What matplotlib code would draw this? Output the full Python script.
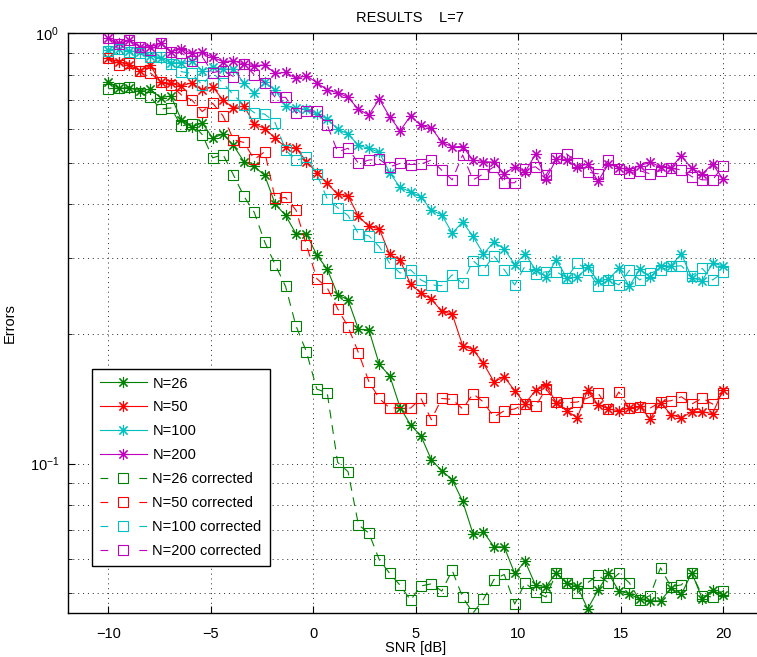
import numpy as np
import matplotlib
matplotlib.use("Agg")
import matplotlib.pyplot as plt
from matplotlib.ticker import LogLocator, NullFormatter, FixedLocator

plt.rcParams['font.family'] = ['Liberation Sans', 'DejaVu Sans']
plt.rcParams['mathtext.fontset'] = 'custom'
plt.rcParams['mathtext.rm'] = 'Liberation Sans'

snr = np.linspace(-10, 20, 60)

n26 = [0.77, 0.745, 0.745, 0.735, 0.74, 0.708, 0.714, 0.628, 0.604, 0.619,
       0.57, 0.583, 0.548, 0.503, 0.49, 0.467, 0.401, 0.377, 0.342, 0.342,
       0.305, 0.283, 0.247, 0.240, 0.205, 0.2045, 0.170, 0.160, 0.135, 0.123,
       0.116, 0.102, 0.0963, 0.0918, 0.0818, 0.0687, 0.0694, 0.0642, 0.064, 0.0556,
       0.0593, 0.0522, 0.0518, 0.0558, 0.0527, 0.052, 0.046, 0.0508, 0.0556, 0.0506,
       0.0499, 0.0484, 0.048, 0.048, 0.0514, 0.0497, 0.0558, 0.0486, 0.0508, 0.0495]
n26c = [0.742, 0.746, 0.75, 0.727, 0.711, 0.666, 0.670, 0.608, 0.616, 0.581,
        0.513, 0.522, 0.468, 0.418, 0.383, 0.327, 0.290, 0.258, 0.209, 0.182,
        0.149, 0.146, 0.1007, 0.0958, 0.0721, 0.069, 0.0598, 0.0556, 0.0522, 0.0482,
        0.052, 0.0526, 0.0506, 0.0565, 0.049, 0.045, 0.0484, 0.0538, 0.0553, 0.0472,
        0.0529, 0.0503, 0.049, 0.0558, 0.0527, 0.050, 0.0529, 0.0551, 0.0529, 0.0556,
        0.0529, 0.0482, 0.0494, 0.0573, 0.0518, 0.0523, 0.0556, 0.0494, 0.049, 0.0506]
n50 = [0.873, 0.858, 0.843, 0.818, 0.843, 0.768, 0.764, 0.753, 0.767, 0.736,
       0.75, 0.699, 0.670, 0.677, 0.615, 0.600, 0.570, 0.543, 0.541, 0.503,
       0.474, 0.448, 0.422, 0.419, 0.375, 0.356, 0.351, 0.306, 0.297, 0.261,
       0.249, 0.241, 0.2256, 0.2225, 0.188, 0.184, 0.171, 0.155, 0.159, 0.1477,
       0.1378, 0.148, 0.152, 0.1385, 0.1327, 0.1277, 0.148, 0.137, 0.134, 0.1327,
       0.1346, 0.1358, 0.127, 0.1386, 0.130, 0.1277, 0.132, 0.132, 0.1306, 0.1485]
n50c = [0.873, 0.843, 0.853, 0.818, 0.809, 0.768, 0.757, 0.718, 0.699, 0.657,
        0.687, 0.642, 0.565, 0.557, 0.509, 0.53, 0.413, 0.415, 0.388, 0.322,
        0.269, 0.256, 0.229, 0.208, 0.181, 0.155, 0.1417, 0.1346, 0.135, 0.1346,
        0.1417, 0.1265, 0.1417, 0.141, 0.134, 0.1453, 0.139, 0.1283, 0.1327, 0.134,
        0.1378, 0.1358, 0.149, 0.139, 0.1385, 0.139, 0.142, 0.146, 0.134, 0.1467,
        0.1346, 0.1355, 0.1346, 0.139, 0.140, 0.143, 0.1375, 0.142, 0.1375, 0.146]
n100 = [0.913, 0.918, 0.910, 0.902, 0.886, 0.876, 0.853, 0.853, 0.862, 0.818,
        0.835, 0.824, 0.825, 0.765, 0.725, 0.768, 0.737, 0.677, 0.669, 0.665,
        0.648, 0.632, 0.598, 0.583, 0.548, 0.540, 0.528, 0.474, 0.438, 0.428,
        0.416, 0.388, 0.378, 0.343, 0.364, 0.337, 0.307, 0.327, 0.315, 0.290,
        0.307, 0.282, 0.272, 0.297, 0.270, 0.271, 0.2855, 0.266, 0.268, 0.284,
        0.258, 0.283, 0.271, 0.287, 0.288, 0.307, 0.270, 0.266, 0.292, 0.288]
n100c = [0.91, 0.917, 0.905, 0.897, 0.878, 0.878, 0.846, 0.813, 0.806, 0.757,
         0.809, 0.765, 0.718, 0.681, 0.653, 0.648, 0.619, 0.535, 0.506, 0.515,
         0.471, 0.412, 0.393, 0.377, 0.342, 0.338, 0.319, 0.292, 0.277, 0.282,
         0.267, 0.260, 0.259, 0.2745, 0.2625, 0.296, 0.282, 0.304, 0.282, 0.260,
         0.288, 0.276, 0.279, 0.279, 0.270, 0.292, 0.282, 0.258, 0.267, 0.260,
         0.281, 0.267, 0.277, 0.282, 0.287, 0.288, 0.273, 0.284, 0.267, 0.278]
n200 = [0.972, 0.946, 0.963, 0.929, 0.929, 0.946, 0.905, 0.917, 0.897, 0.902,
        0.878, 0.858, 0.862, 0.847, 0.84, 0.843, 0.806, 0.81, 0.785, 0.796,
        0.767, 0.737, 0.727, 0.709, 0.665, 0.645, 0.702, 0.639, 0.593, 0.642,
        0.61, 0.602, 0.558, 0.544, 0.545, 0.507, 0.503, 0.501, 0.471, 0.489,
        0.476, 0.523, 0.458, 0.51, 0.507, 0.489, 0.496, 0.453, 0.496, 0.487,
        0.481, 0.492, 0.501, 0.489, 0.487, 0.518, 0.485, 0.471, 0.496, 0.458]
n200c = [0.972, 0.941, 0.963, 0.929, 0.913, 0.946, 0.905, 0.90, 0.862, 0.881,
         0.809, 0.818, 0.792, 0.847, 0.80, 0.767, 0.709, 0.709, 0.653, 0.659,
         0.659, 0.612, 0.530, 0.540, 0.498, 0.507, 0.509, 0.489, 0.498, 0.495,
         0.496, 0.507, 0.480, 0.456, 0.521, 0.456, 0.471, 0.489, 0.449, 0.449,
         0.484, 0.489, 0.468, 0.512, 0.524, 0.498, 0.475, 0.471, 0.507, 0.484,
         0.473, 0.479, 0.471, 0.479, 0.485, 0.481, 0.464, 0.456, 0.456, 0.491]

labels = ['N=26', 'N=50', 'N=100', 'N=200',
          'N=26 corrected', 'N=50 corrected', 'N=100 corrected', 'N=200 corrected']
colors = ['#008000', '#ff0000', '#00bfbf', '#bf00bf']

fig = plt.figure(figsize=(7.57, 6.57), dpi=100)
ax = fig.add_axes([67.5 / 757, 44 / 657, 696.5 / 757, 580 / 657])

asterisk = (8, 2, 0)
for vals, c, lab in zip([n26, n50, n100, n200], colors, labels[:4]):
    ax.plot(snr, vals, color=c, lw=0.8, marker=asterisk, ms=8, mew=0.8, label=lab)
for vals, c, lab in zip([n26c, n50c, n100c, n200c], colors, labels[4:]):
    ax.plot(snr, vals, color=c, lw=0.8, linestyle=(0, (8, 6)), marker='s', ms=7,
            mfc='none', mew=0.8, label=lab)

ax.set_yscale('log')
ax.set_xlim(-12, 22)
ax.set_ylim(0.045, 1)
ax.set_xticks([-10, -5, 0, 5, 10, 15, 20])
ax.set_xticklabels(['\u221210', '\u22125', '0', '5', '10', '15', '20'])
ax.yaxis.set_major_locator(FixedLocator([0.1, 1]))
ax.yaxis.set_minor_locator(LogLocator(base=10, subs=np.arange(2, 10)))
ax.yaxis.set_minor_formatter(NullFormatter())

ax.grid(True, which='major', color='0.15', linestyle=(0, (1, 4)), lw=0.7)
ax.grid(True, which='minor', axis='y', color='0.15', linestyle=(0, (1, 4)), lw=0.7)

ax.tick_params(which='both', direction='in', top=True, right=True, labelsize=10.5)
ax.tick_params(which='major', length=5, width=0.8)
ax.tick_params(which='minor', length=3, width=0.6)
ax.tick_params(axis='x', which='major', pad=10)
ax.tick_params(axis='y', which='major', pad=6)
for s in ax.spines.values():
    s.set_linewidth(1.0)

ax.set_xlabel('SNR [dB]', fontsize=10.5, labelpad=0)
ax.set_ylabel('Errors', fontsize=10.5, labelpad=9)
ax.set_title('RESULTS    L=7', fontsize=10.5, pad=8, x=(410 - 67.5) / 696.5)

leg = ax.legend(loc='lower left', bbox_to_anchor=(0.035, 0.081), fontsize=10.5,
                frameon=True, fancybox=False, framealpha=1, edgecolor='black',
                handlelength=3.2, labelspacing=0.68, borderpad=0.55, handletextpad=0.4,
                borderaxespad=0)
leg.get_frame().set_linewidth(1.0)
for h in leg.get_lines()[4:]:
    h.set_linestyle((0, (7.0, 28.0)))

fig.savefig('out.png', dpi=100)
